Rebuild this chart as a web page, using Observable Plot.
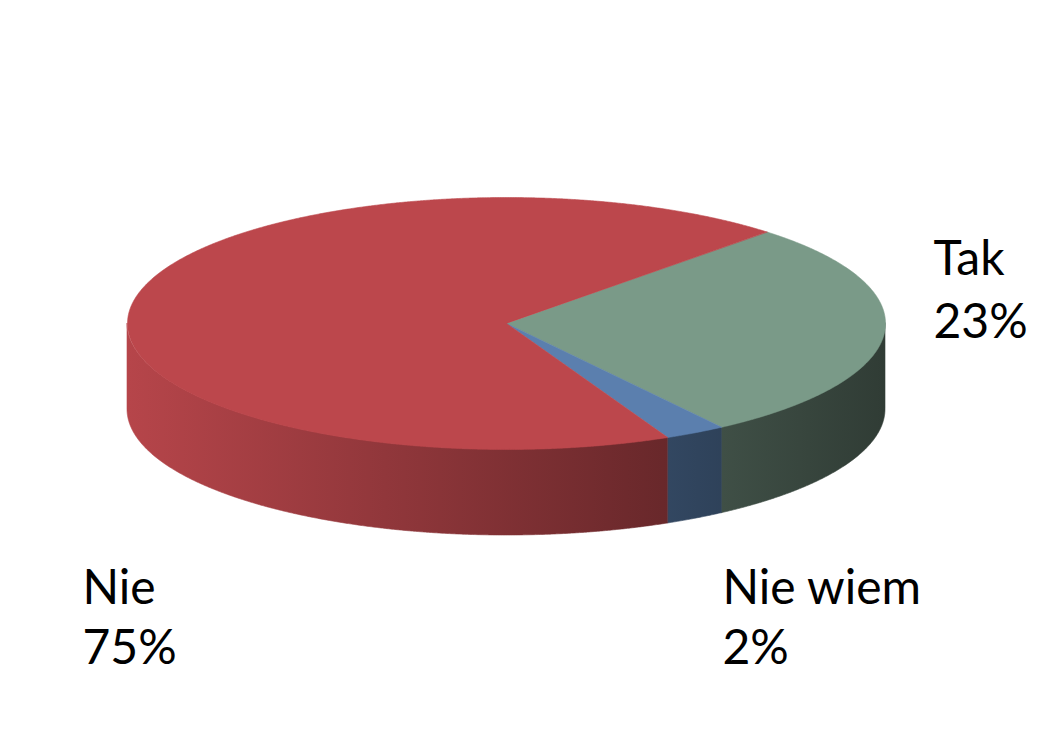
<!DOCTYPE html>
<html>
<head>
<meta charset="utf-8">
<script src="https://cdn.jsdelivr.net/npm/d3@7"></script>
<script src="https://cdn.jsdelivr.net/npm/@observablehq/plot@0.6"></script>
<style>
  html, body { margin: 0; padding: 0; background: #ffffff; }
  svg { display: block; }
</style>
</head>
<body>
<div id="chart"></div>
<script>
// ---- data ----
const categories = ["Tak", "Nie wiem", "Nie"];
const values = [23, 2, 75];
const colors = ["#7a9a88", "#5b7fae", "#bc474c"];

// ---- layout ----
const W = 1063, H = 743;
const geom = {cx: 506, cy: 323, rx: 379, ry: 126, depth: 86};
const view = {start: 13.4, k: 0.31, rot: -42.7};          // degrees, k = perspective stretch
const shade = [[0, 0.97], [1, 0.39]];                     // side lighting (left -> right)
const labelLayout = [
  {x: 933, y1: 274, y2: 337},
  {x: 722, y1: 603, y2: 663},
  {x: 82,  y1: 603, y2: 663}
];
const font = {family: "Lato, 'Open Sans', sans-serif", size: 48};

// ---- geometry from data ----
const rad = Math.PI / 180;
const total = d3.sum(values);
const disp = t => t - view.k * Math.cos(t) + view.rot * rad;
let acc = 0;
const slices = categories.map((c, i) => {
  const t0 = view.start * rad + acc / total * 2 * Math.PI;
  acc += values[i];
  const t1 = view.start * rad + acc / total * 2 * Math.PI;
  return {cat: c, i, a0: disp(t0), a1: disp(t1)};
});
const px = a => geom.cx + geom.rx * Math.cos(a);
const py = a => geom.cy + geom.ry * Math.sin(a);
function arcAngles(a0, a1) {
  const n = Math.max(2, Math.ceil((a1 - a0) / (0.25 * rad)));
  return d3.range(n + 1).map(j => a0 + (a1 - a0) * j / n);
}

const topPts = slices.flatMap(s => [
  {cat: s.cat, x: geom.cx, y: geom.cy},
  ...arcAngles(s.a0, s.a1).map(a => ({cat: s.cat, x: px(a), y: py(a)}))
]);

const sidePts = slices.flatMap(s => {
  const out = [];
  for (let k = -1; k <= 1; k++) {
    const lo = Math.max(s.a0, 2 * Math.PI * k);
    const hi = Math.min(s.a1, 2 * Math.PI * k + Math.PI);
    if (hi > lo) {
      out.push(...arcAngles(lo, hi).map(a => ({cat: s.cat, seg: k, x: px(a), y1: py(a), y2: py(a) + geom.depth})));
    }
  }
  return out;
});

function scaleColor(c, f) {
  const r = d3.rgb(c);
  return d3.rgb(r.r * f, r.g * f, r.b * f).formatHex();
}

const defsMark = (index, scales) => {
  const defs = d3.create("svg:defs");
  categories.forEach((c, i) => {
    const g = defs.append("linearGradient")
      .attr("id", `side-${i}`)
      .attr("gradientUnits", "userSpaceOnUse")
      .attr("x1", scales.x(geom.cx - geom.rx)).attr("x2", scales.x(geom.cx + geom.rx))
      .attr("y1", 0).attr("y2", 0);
    shade.forEach(([o, f]) => g.append("stop").attr("offset", o).attr("stop-color", scaleColor(colors[i], f)));
  });
  return defs.node();
};

const sideMarks = categories.map((c, i) =>
  Plot.area(sidePts.filter(d => d.cat === c), {
    x1: "x", y1: "y1", y2: "y2", z: "seg",
    fill: `url(#side-${i})`, stroke: `url(#side-${i})`, strokeWidth: 0.6
  })
);

const chart = Plot.plot({
  width: W, height: H,
  margin: 0,
  x: {domain: [0, W], range: [0, W], axis: null},
  y: {domain: [0, H], range: [0, H], axis: null},
  color: {domain: categories, range: colors},
  style: {background: "#ffffff"},
  marks: [
    defsMark,
    ...sideMarks,
    Plot.line(topPts, {x: "x", y: "y", z: "cat", fill: "cat", stroke: "cat", strokeWidth: 0.6, curve: "linear-closed"}),
    Plot.text(categories, {
      x: (d, i) => labelLayout[i].x, y: (d, i) => labelLayout[i].y1, text: d => d,
      textAnchor: "start", lineAnchor: "bottom", fontSize: font.size, fontFamily: font.family, fill: "#000000"
    }),
    Plot.text(values, {
      x: (d, i) => labelLayout[i].x, y: (d, i) => labelLayout[i].y2, text: d => `${d}%`,
      textAnchor: "start", lineAnchor: "bottom", fontSize: font.size, fontFamily: font.family, fill: "#000000"
    })
  ]
});
document.getElementById("chart").appendChild(chart);
</script>
</body>
</html>
